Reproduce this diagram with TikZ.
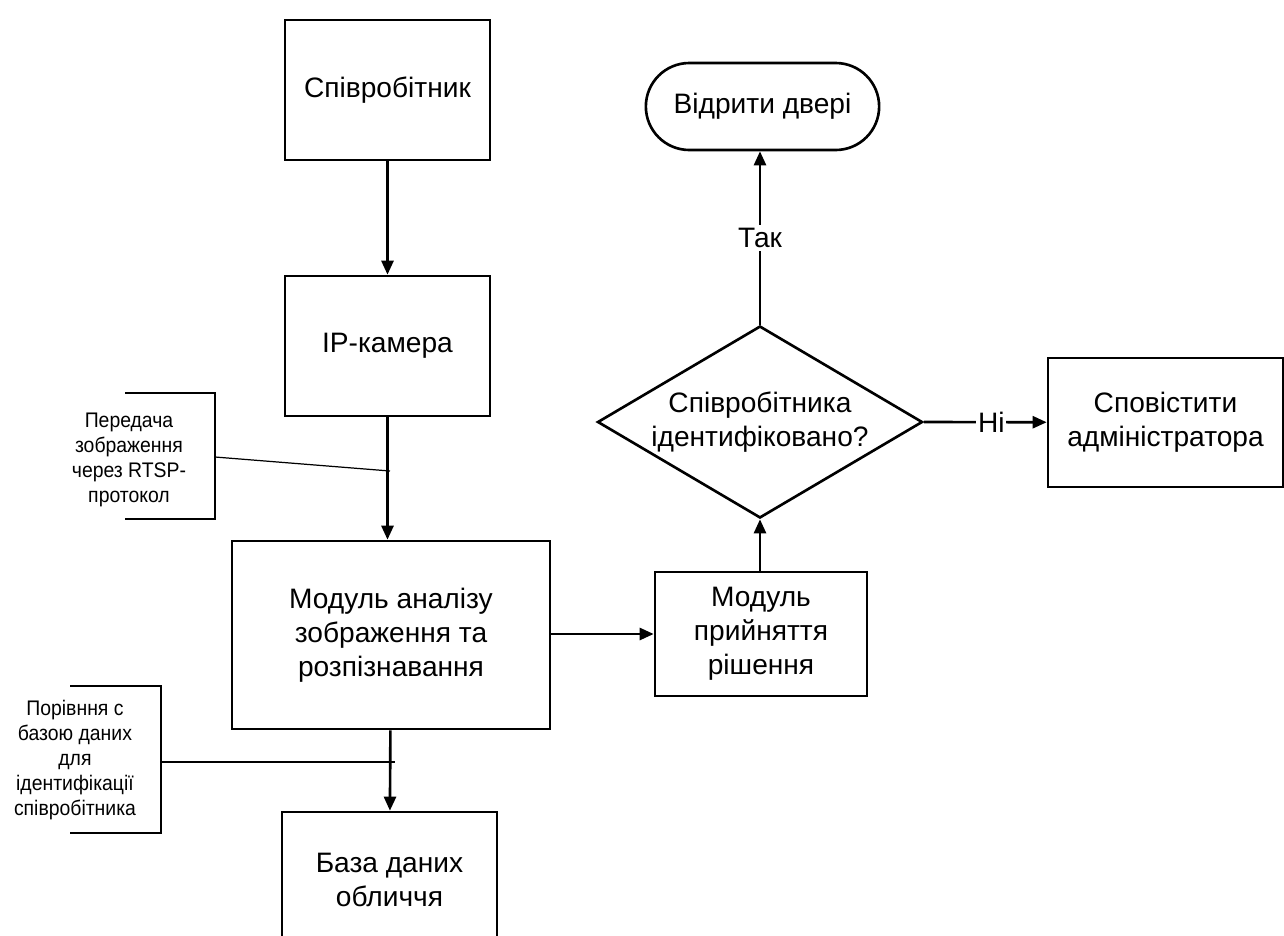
\documentclass[tikz,border=0pt]{standalone}
\usepackage{fontspec}
\setmainfont{Liberation Sans}
\newfontfamily\narrowfont[FakeStretch=0.92]{Liberation Sans}
\usetikzlibrary{shapes.geometric, shapes.misc, arrows.meta}

\begin{document}
\begin{tikzpicture}[
    x=0.2mm, y=-0.2mm,
    every node/.style = {font=\fontsize{16}{19.4}\selectfont, align=center},
    block/.style    = {rectangle, draw, line width=1.5pt},
    terminal/.style = {rounded rectangle, draw, line width=1.5pt,
                       minimum width=49mm, minimum height=17.4mm},
    decision/.style = {diamond, aspect=1.7, draw, line width=1.5pt, inner sep=0pt,
                       minimum width=65mm, minimum height=38.4mm},
    note/.style     = {font=\narrowfont\fontsize{12}{14.2}\selectfont},
    flow/.style     = {-{Triangle[length=2.8mm,width=2.4mm]}, line width=1.5pt},
    thin/.style     = {line width=0.7pt}
  ]
  \clip (0,0) rectangle (1284,936);

  % main column
  \node[block, minimum width=41mm, minimum height=28mm] (employee) at (387.5,90) {Співробітник};
  \node[block, minimum width=41mm, minimum height=28mm] (camera) at (387.5,346) {IP-камера};
  \node[block, minimum width=63.6mm, minimum height=37.6mm] (analysis) at (391,635)
       {Модуль аналізу\\зображення та\\розпізнавання};
  \node[block, minimum width=43mm, minimum height=27.2mm] (database) at (389.5,880)
       {База даних\\обличчя};

  % decision branch
  \node[block, minimum width=42.4mm, minimum height=24.8mm] (decide) at (761,634)
       {Модуль\\прийняття\\рішення};
  \node[decision] (check) at (760,422) {Співробітника\\ідентифіковано?};
  \node[terminal] (door) at (762.5,106.5) {Відрити двері};
  \node[block, minimum width=47mm, minimum height=25.8mm] (notify) at (1165.5,422.5)
       {Сповістити\\адміністратора};

  % notes
  \node[note] (rtsp) at (129,460) {Передача\\зображення\\через RTSP-\\протокол};
  \node[note] (compare) at (75,760) {Порівння с\\базою даних\\для\\ідентифікації\\співробітника};
  \coordinate (rtsptip) at (390,471);
  \coordinate (comparetip) at (395,762);

  % arrows
  \draw[flow] (employee) -- (camera);
  \draw[flow] (camera) -- (camera.south |- analysis.north);
  \draw[flow] (analysis) -- (database);
  \draw[flow] (analysis.east |- decide) -- (decide);
  \draw[flow] (decide.north -| check) -- (check.south);
  \draw[flow] (check.north) -- node[fill=white, inner sep=2pt]{Так} (check.north |- door.south);
  \draw[flow] (check.east) -- node[fill=white, inner sep=1pt, pos=.55]{Ні} (notify);

  % note brackets
  \draw[thin] (125,393) -| (215,519) -- (125,519);
  \draw[thin] (215,457) -- (rtsptip);
  \draw[thin] (70,686) -| (161,833) -- (70,833);
  \draw[thin] (161,762) -- (comparetip);
\end{tikzpicture}
\end{document}
